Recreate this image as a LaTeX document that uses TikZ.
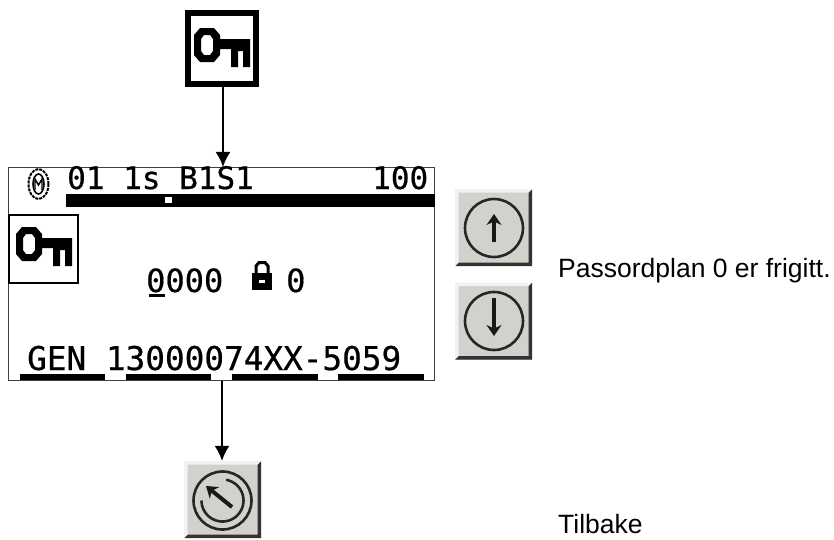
\documentclass[tikz,border=0pt]{standalone}
\usepackage{fontspec}
\setmainfont{Liberation Sans}
\newfontfamily\lcd[FakeBold=0.6]{DejaVu Sans Mono}
\usetikzlibrary{arrows.meta}
\definecolor{btngray}{HTML}{D2D1CC}
\tikzset{
  x=1pt,y=-1pt,
  conn/.style={draw=black,line width=1.5pt,-{Latex[length=15pt,width=15pt]}},
  lcdtext/.style={inner sep=0pt,anchor=base west,font=\lcd\fontsize{#1}{#1}\selectfont},
  caption/.style={inner sep=0pt,anchor=base west,font=\fontsize{26.5}{30}\selectfont},
  screenbox/.style={draw=black!75,line width=1.2pt,fill=white,inner sep=0pt,minimum width=426pt,minimum height=213pt},
  keybox/.style={draw=black,line width=6pt,fill=white,inner sep=0pt,minimum width=68pt,minimum height=71pt},
  btn/.style={fill=btngray,inner sep=0pt,minimum width=77pt,minimum height=77pt},
  glyph/.style={draw=black!85,line width=2.6pt},
  btnarrow/.style={draw=black!90,line width=4pt,-{Stealth[length=11pt,width=15pt]}},
  pics/keyicon/.style={code={
    \fill[black,even odd rule] (6,0)--(20,0)--(26,7)--(26,11)--(56,11)--(56,39)--(49,39)--(49,23)--(44,23)--(44,39)--(37,39)--(37,21)--(26,21)--(26,27)--(20,34)--(6,34)--(0,27)--(0,7)--cycle
      (10,7)--(16,7)--(19,11)--(19,23)--(16,27)--(10,27)--(7,23)--(7,11)--cycle;
  }},
  pics/bevel/.style={code={
    \fill[black!80] (38.5,-38.5)--(38.5,38.5)--(-38.5,38.5)--(-35,35)--(35,35)--(35,-35)--cycle;
    \fill[white!90!gray] (-38.5,-38.5)--(38.5,-38.5)--(35,-35)--(-35,-35)--(-35,35)--(-38.5,38.5)--cycle;
  }}
}
\begin{document}
\begin{tikzpicture}
\useasboundingbox (0,0) rectangle (834,539);
% nodes
\node[keybox] (topkey) at (222,48.5) {};
\node[screenbox] (screen) at (221.5,274) {};
\node[btn] (up) at (493.5,227.5) {};
\node[btn] (down) at (493.5,321) {};
\node[btn] (back) at (222.5,499.5) {};
% connectors
\draw[conn] (topkey.south -| 223,0) -- (screen.north -| 223,0);
\draw[conn] (screen.south -| 222,0) -- (back.north -| 222,0);
% key icons
\pic at (194,28) {keyicon};
\draw[black,line width=2pt] (9,215) rectangle (78,283);
\pic at (16,227) {keyicon};
% screen top row
\fill[black] (66,194) rectangle (435,207);
\fill[white] (165,197) rectangle (172,203);
\node[lcdtext=31] (row1) at (67,189) {01 1s B1S1};
\node[lcdtext=31] (row1b) at (372,189) {100};
% small ring icon
\draw[black,line width=2pt,dash pattern=on 3pt off 1pt] (38.5,184) ellipse [x radius=10,y radius=15];
\draw[black,line width=1.6pt] (38.5,184) ellipse [x radius=5.5,y radius=10];
\draw[black,line width=1.4pt] (35,190)--(35,179)--(38.5,185)--(42,179)--(42,190);
% centre row
\node[lcdtext=32] (code) at (146,292) {0000};
\fill[black] (149,294) rectangle (165,296.5);
\fill[black] (252,273) rectangle (272,290);
\draw[black,line width=3pt] (256,273)--(256,266)--(259,262.5)--(265,262.5)--(268,266)--(268,273);
\fill[white] (259,280) rectangle (265,283);
\node[lcdtext=32] (level) at (286,292) {0};
% bottom row
\node[lcdtext=32.7] (gen) at (27,370) {GEN 13000074XX-5059};
\foreach \a/\b in {20/105,126/211,232/318,338/424}{\fill[black] (\a,374) rectangle (\b,380);}
% buttons
\pic at (up.center) {bevel};
\pic at (down.center) {bevel};
\pic at (back.center) {bevel};
\draw[glyph] (494,228) circle [radius=29];
\draw[btnarrow] (494,242) -- (494,214);
\draw[glyph] (494,321) circle [radius=29];
\draw[btnarrow] (494,298) -- (494,336);
\draw[glyph] (222.5,500.5) circle [radius=29];
\draw[glyph] plot[smooth,domain=-80:180,samples=40] ({222.5+21*cos(\x)},{500.5+21*sin(\x)});
\draw[btnarrow] (232,507) -- (206,486);
% captions
\node[caption] (cap1) at (558,277) {Passordplan 0 er frigitt.};
\node[caption] (cap2) at (558,533) {Tilbake};
\end{tikzpicture}
\end{document}
